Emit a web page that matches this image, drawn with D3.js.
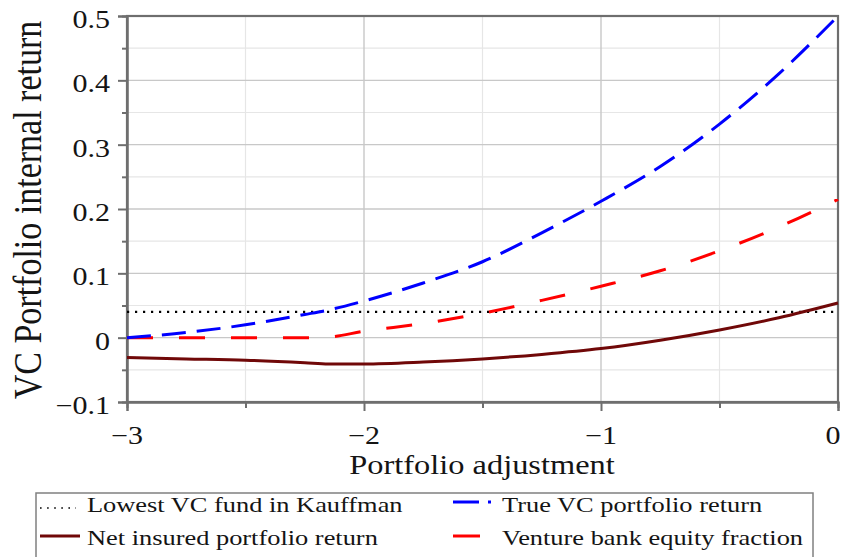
<!DOCTYPE html>
<html>
<head>
<meta charset="utf-8">
<script src="https://cdn.jsdelivr.net/npm/d3@7"></script>
<style>
  body { margin: 0; background: #fff; }
  svg { display: block; }
  text { font-family: "Liberation Serif", "Times New Roman", serif; fill: #141414; }
</style>
</head>
<body>
<svg id="canvas" width="841" height="557"></svg>
<script>
// values
let xValues    = [-3, -2.75, -2.5, -2.25, -2.15, -2, -1.75, -1.5, -1.25, -1, -0.75, -0.5, -0.25, 0];
let trueReturn = [0, 0.008, 0.020, 0.036, 0.043, 0.057, 0.085, 0.118, 0.163, 0.212, 0.266, 0.332, 0.410, 0.500];
let equityFrac = [0, 0, 0, 0, 0.001, 0.010, 0.022, 0.038, 0.058, 0.080, 0.104, 0.135, 0.172, 0.215];
let netInsured = [-0.031, -0.033, -0.035, -0.039, -0.041, -0.041, -0.038, -0.033, -0.026, -0.017, -0.004, 0.012, 0.031, 0.054];
let lowestKauffman = 0.04;

let xTicks = [-3, -2, -1, 0];
let xMinor = [-2.5, -1.5, -0.5];
let yTicks = [-0.1, 0, 0.1, 0.2, 0.3, 0.4, 0.5];
let yMinor = [-0.05, 0.05, 0.15, 0.25, 0.35, 0.45];
let xLabels = ["\u22123", "\u22122", "\u22121", "0"];
let yLabels = ["\u22120.1", "0", "0.1", "0.2", "0.3", "0.4", "0.5"];

let legendItems = [
  {name: "Lowest VC fund in Kauffman", color: "#000", dash: "2.2,5.8", w: 2.2},
  {name: "True VC portfolio return", color: "#0000ff", dash: "24,11", w: 3},
  {name: "Net insured portfolio return", color: "#700808", dash: null, w: 3},
  {name: "Venture bank equity fraction", color: "#ff0000", dash: "26,26", w: 3}
];

let stretch = 1.2; // text in the picture is squashed wider than tall
let margin = {left: 127, right: 3, top: 16, bottom: 155};
let width = 841, height = 557;

let canvas = d3.select("#canvas");

let xScale = d3.scaleLinear().domain([-3, 0]).range([margin.left, width - margin.right]);
let yScale = d3.scaleLinear().domain([-0.1, 0.5]).range([height - margin.bottom, margin.top]);

let x0 = xScale.range()[0], x1 = xScale.range()[1];
let y0 = yScale.range()[0], y1 = yScale.range()[1];

// grid
let grid = canvas.append("g");
grid.selectAll(".vminor").data(xMinor).enter().append("line")
    .attr("x1", d => xScale(d)).attr("x2", d => xScale(d))
    .attr("y1", y1).attr("y2", y0)
    .attr("stroke", "#e6e6e6").attr("stroke-width", 1.2);
grid.selectAll(".hminor").data(yMinor).enter().append("line")
    .attr("y1", d => yScale(d)).attr("y2", d => yScale(d))
    .attr("x1", x0).attr("x2", x1)
    .attr("stroke", "#e6e6e6").attr("stroke-width", 1.2);
grid.selectAll(".vmajor").data(xTicks).enter().append("line")
    .attr("x1", d => xScale(d)).attr("x2", d => xScale(d))
    .attr("y1", y1).attr("y2", y0)
    .attr("stroke", "#c8c8c8").attr("stroke-width", 1.4);
grid.selectAll(".hmajor").data(yTicks).enter().append("line")
    .attr("y1", d => yScale(d)).attr("y2", d => yScale(d))
    .attr("x1", x0).attr("x2", x1)
    .attr("stroke", "#c8c8c8").attr("stroke-width", 1.4);

// axes (tick marks only, labels drawn below)
let yAxis = d3.axisLeft(yScale).tickValues(yTicks).tickSize(9).tickFormat("");
let yAxisMinor = d3.axisLeft(yScale).tickValues(yMinor).tickSize(5).tickFormat("");
let xAxis = d3.axisBottom(xScale).tickValues(xTicks).tickSize(9).tickFormat("");
let xAxisMinor = d3.axisBottom(xScale).tickValues(xMinor).tickSize(6).tickFormat("");

canvas.append("g").attr("transform", "translate(" + x0 + ",0)").call(yAxis);
canvas.append("g").attr("transform", "translate(" + x0 + ",0)").call(yAxisMinor);
canvas.append("g").attr("transform", "translate(0," + y0 + ")").call(xAxis);
canvas.append("g").attr("transform", "translate(0," + y0 + ")").call(xAxisMinor);
canvas.selectAll(".domain, .tick line").attr("stroke", "#6e6e6e").attr("stroke-width", 2);

// frame
canvas.append("rect")
    .attr("x", x0).attr("y", y1)
    .attr("width", x1 - x0).attr("height", y0 - y1)
    .attr("fill", "none").attr("stroke", "#6e6e6e").attr("stroke-width", 2.2);

// tick labels
canvas.selectAll(".ylab").data(yTicks).enter().append("text")
    .attr("transform", d => "translate(110," + (yScale(d) + 12) + ") scale(" + stretch + ",1)")
    .attr("text-anchor", "end")
    .attr("font-size", 25)
    .text((d, i) => yLabels[i]);
canvas.selectAll(".xlab").data(xTicks).enter().append("text")
    .attr("transform", d => "translate(" + Math.min(xScale(d), width - 8) + ",444) scale(" + stretch + ",1)")
    .attr("text-anchor", "middle")
    .attr("font-size", 25)
    .text((d, i) => xLabels[i]);

// axis titles
canvas.append("text")
    .attr("transform", "translate(482,474) scale(" + stretch + ",1)")
    .attr("text-anchor", "middle")
    .attr("font-size", 27)
    .text("Portfolio adjustment");
canvas.append("text")
    .attr("transform", "translate(41,210) scale(" + stretch + ",1) rotate(-90)")
    .attr("text-anchor", "middle")
    .attr("font-size", 34)
    .text("VC Portfolio internal return");

// curves
let makeLine = (values) => d3.line()
    .x((d, i) => xScale(xValues[i]))
    .y(d => yScale(d))
    .curve(d3.curveMonotoneX)(values);

let plot = canvas.append("g");
plot.append("path")
    .attr("d", d3.line()([[x0, yScale(lowestKauffman)], [x1, yScale(lowestKauffman)]]))
    .attr("fill", "none").attr("stroke", legendItems[0].color)
    .attr("stroke-width", legendItems[0].w).attr("stroke-dasharray", legendItems[0].dash);
plot.append("path")
    .attr("d", makeLine(netInsured))
    .attr("fill", "none").attr("stroke", legendItems[2].color).attr("stroke-width", 3);
plot.append("path")
    .attr("d", makeLine(equityFrac))
    .attr("fill", "none").attr("stroke", legendItems[3].color).attr("stroke-width", 3)
    .attr("stroke-dasharray", legendItems[3].dash);
plot.append("path")
    .attr("d", makeLine(trueReturn))
    .attr("fill", "none").attr("stroke", legendItems[1].color).attr("stroke-width", 3)
    .attr("stroke-dasharray", legendItems[1].dash);

// legend
let legend = canvas.append("g");
legend.append("rect")
    .attr("x", 36).attr("y", 493).attr("width", 777).attr("height", 80)
    .attr("fill", "#fff").attr("stroke", "#808080").attr("stroke-width", 1.5);

let legendPos = [
  {sx: 40, tx: 87, y: 512},
  {sx: 453, tx: 502, y: 512},
  {sx: 40, tx: 87, y: 545},
  {sx: 453, tx: 502, y: 545}
];

legendItems.forEach((item, i) => {
  let p = legendPos[i];
  if (i === 0) {
    legend.append("line").attr("x1", p.sx).attr("x2", p.sx + 36).attr("y1", p.y - 4).attr("y2", p.y - 4)
        .attr("stroke", item.color).attr("stroke-width", 1.6).attr("stroke-dasharray", "1.6,5.5");
  } else if (i === 1) {
    legend.append("line").attr("x1", p.sx).attr("x2", p.sx + 26).attr("y1", p.y - 10).attr("y2", p.y - 10)
        .attr("stroke", item.color).attr("stroke-width", 3);
    legend.append("line").attr("x1", p.sx + 35).attr("x2", p.sx + 38).attr("y1", p.y - 10).attr("y2", p.y - 10)
        .attr("stroke", item.color).attr("stroke-width", 3);
  } else if (i === 2) {
    legend.append("line").attr("x1", p.sx).attr("x2", p.sx + 40).attr("y1", p.y - 9).attr("y2", p.y - 9)
        .attr("stroke", item.color).attr("stroke-width", 3);
  } else {
    legend.append("line").attr("x1", p.sx).attr("x2", p.sx + 27).attr("y1", p.y - 9).attr("y2", p.y - 9)
        .attr("stroke", item.color).attr("stroke-width", 3);
  }
  legend.append("text")
      .attr("transform", "translate(" + p.tx + "," + p.y + ") scale(" + stretch + ",1)")
      .attr("font-size", 22)
      .text(item.name);
});
</script>
</body>
</html>
